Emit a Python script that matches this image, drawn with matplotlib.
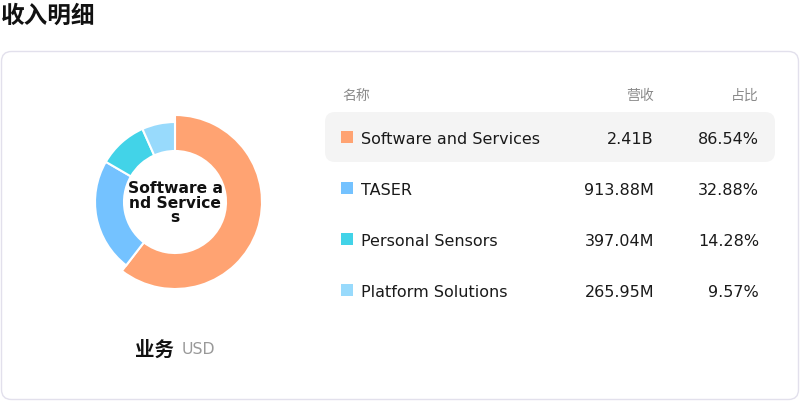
import matplotlib
matplotlib.use("Agg")
import matplotlib.pyplot as plt
from matplotlib.patches import FancyBboxPatch, Rectangle

plt.rcParams['font.family'] = ['DejaVu Sans', 'Noto Sans CJK SC']

# ---- data ----
title = "收入明细"
categories = ["Software and Services", "TASER", "Personal Sensors", "Platform Solutions"]
revenues = [2.41e9, 913.88e6, 397.04e6, 265.95e6]
revenue_labels = ["2.41B", "913.88M", "397.04M", "265.95M"]
share_labels = ["86.54%", "32.88%", "14.28%", "9.57%"]
colors = ["#FFA372", "#74C2FF", "#42D3E8", "#98DAFC"]
headers = ["名称", "营收", "占比"]
center_label = "Software a\nnd Service\ns"
bottom_label = "业务"
unit_label = "USD"

W, H = 800, 402
fig = plt.figure(figsize=(W / 100, H / 100), dpi=100)

# background axes in pixel coordinates
bg = fig.add_axes([0, 0, 1, 1])
bg.set_xlim(0, W)
bg.set_ylim(H, 0)
bg.axis("off")

# title
bg.text(1, 16, title, fontsize=17, fontweight="bold", color="#111111",
        va="center", ha="left")

# card
card = FancyBboxPatch((1.5, 52.5), W - 3, H - 54, boxstyle="round,pad=0,rounding_size=10",
                      facecolor="white", edgecolor="#E2E0EC", linewidth=1)
bg.add_patch(card)

# table header
col_name_x, col_rev_x, col_pct_x = 342, 654, 759
header_y = 96
bg.text(col_name_x, header_y, headers[0], fontsize=10, color="#8a8a8a", va="center", ha="left")
bg.text(col_rev_x, header_y, headers[1], fontsize=10, color="#8a8a8a", va="center", ha="right")
bg.text(col_pct_x, header_y, headers[2], fontsize=10, color="#8a8a8a", va="center", ha="right")

row_y0, row_dy = 138, 51
for i, (cat, rl, sl, c) in enumerate(zip(categories, revenue_labels, share_labels, colors)):
    y = row_y0 + i * row_dy
    if i == 0:
        hl = FancyBboxPatch((325, y - 25), 450, 50, boxstyle="round,pad=0,rounding_size=10",
                            facecolor="#F4F4F4", edgecolor="none")
        bg.add_patch(hl)
    bg.add_patch(Rectangle((341, y - 6), 12, 12, facecolor=c, edgecolor="none"))
    ty = y + 1.5
    bg.text(361, ty, cat, fontsize=11.5, color="#1a1a1a", va="center", ha="left")
    bg.text(col_rev_x, ty, rl, fontsize=11.5, color="#1a1a1a", va="center", ha="right")
    bg.text(col_pct_x, ty, sl, fontsize=11.5, color="#1a1a1a", va="center", ha="right")

# donut (first slice highlighted with a larger outer radius)
cx, cy = 175, 203
r_hl, r_out, r_in = 87, 80, 51
bg.text(cx - 1, 350, bottom_label, fontsize=14, fontweight="bold", color="#111111",
        va="center", ha="right")
bg.text(cx + 7, 350, unit_label, fontsize=11.3, color="#999999", va="center", ha="left")

pie_ax = fig.add_axes([(cx - r_hl) / W, (H - cy - r_hl) / H, 2 * r_hl / W, 2 * r_hl / H])
wedges, _ = pie_ax.pie(revenues, colors=colors, startangle=90, counterclock=False,
                       radius=r_out / r_hl,
                       wedgeprops=dict(width=(r_out - r_in) / r_hl, edgecolor="white",
                                       linewidth=1.5))
wedges[0].set_radius(1.0)
wedges[0].set_width((r_hl - r_in) / r_hl)
pie_ax.set_xlim(-1, 1)
pie_ax.set_ylim(-1, 1)
pie_ax.set_aspect("equal")
pie_ax.axis("off")
pie_ax.text(0, 0, center_label, fontsize=11.2, fontweight="bold", color="#111111",
            ha="center", va="center", linespacing=0.95)

fig.savefig("out.png", dpi=100)
